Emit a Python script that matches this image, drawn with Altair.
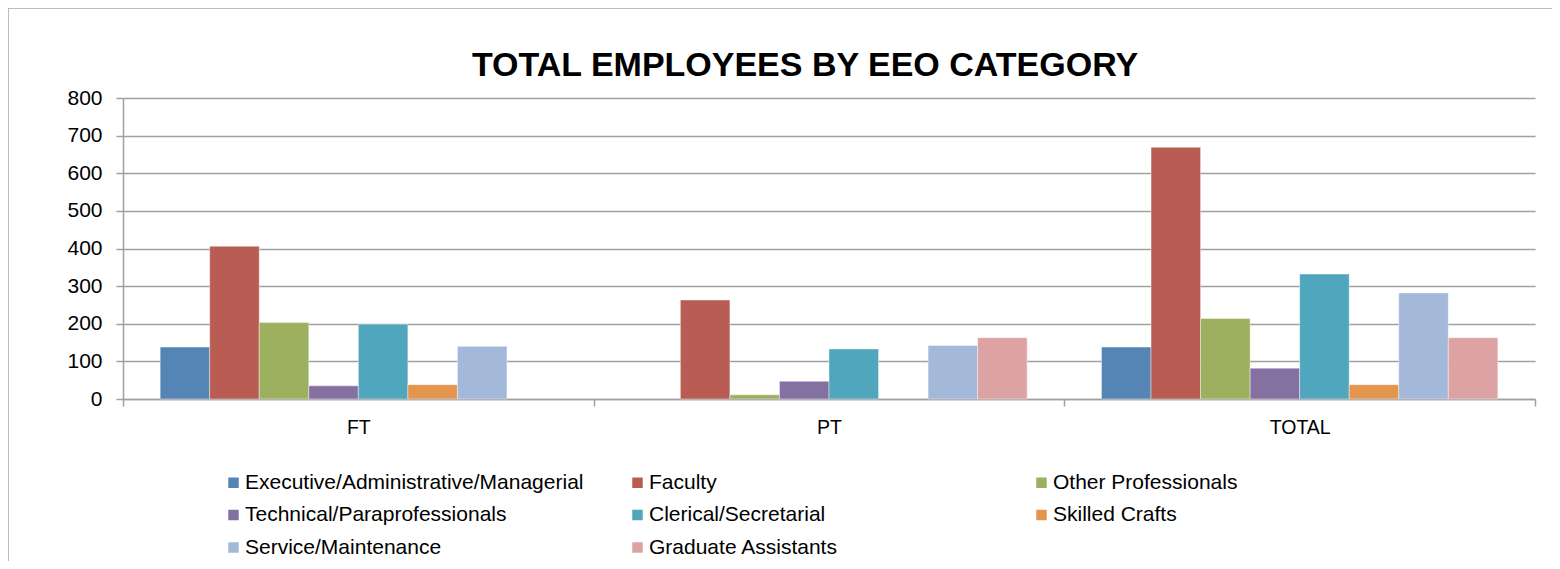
import altair as alt
import pandas as pd

categories = [
    "Executive/Administrative/Managerial",
    "Faculty",
    "Other Professionals",
    "Technical/Paraprofessionals",
    "Clerical/Secretarial",
    "Skilled Crafts",
    "Service/Maintenance",
    "Graduate Assistants",
]
groups = ["FT", "PT", "TOTAL"]
ft_values = [138, 406, 203, 35, 199, 38, 140, 0]
pt_values = [0, 263, 11, 47, 133, 0, 142, 163]
total_values = [138, 669, 214, 82, 332, 38, 282, 163]
colors = ["#5585b5", "#b95c53", "#9cb05f", "#8570a2", "#50a6bc", "#e4954d", "#a4b8d9", "#dca3a2"]
y_ticks = [0, 100, 200, 300, 400, 500, 600, 700, 800]

rows = []
for g, vals in zip(groups, [ft_values, pt_values, total_values]):
    for c, v in zip(categories, vals):
        rows.append({"group": g, "category": c, "value": v})
df = pd.DataFrame(rows)

FONT = "Liberation Sans"
GRID = "#a0a0a0"
W, H = 1412, 301

bars = alt.Chart(df).transform_filter("datum.value > 0").mark_bar(
    stroke="white", strokeWidth=0.6, strokeOpacity=0.7
).encode(
    x=alt.X(
        "group:N",
        sort=groups,
        scale=alt.Scale(paddingInner=0, paddingOuter=0),
        axis=alt.Axis(
            title=None, labelAngle=0, tickBand="extent", tickSize=7,
            tickColor=GRID, tickWidth=1.5, domainColor=GRID, domainWidth=1.5,
            labelFont=FONT, labelFontSize=19.5, labelColor="black", labelPadding=12,
        ),
    ),
    xOffset=alt.XOffset(
        "category:N", sort=categories,
        scale=alt.Scale(domain=categories, paddingInner=0, paddingOuter=0.75),
    ),
    y=alt.Y(
        "value:Q",
        scale=alt.Scale(domain=[0, 800], nice=False),
        axis=alt.Axis(
            title=None, values=y_ticks, tickSize=7, tickColor=GRID, tickWidth=1.5,
            domainColor=GRID, domainWidth=1.5, gridColor=GRID, gridWidth=1.5,
            labelFont=FONT, labelFontSize=21, labelColor="black", labelPadding=14,
        ),
    ),
    color=alt.Color(
        "category:N",
        sort=categories,
        scale=alt.Scale(domain=categories, range=colors),
        legend=alt.Legend(
            title=None, orient="none", legendX=100, legendY=374, columns=3,
            direction="horizontal",
            gridAlign="all", columnPadding=43, rowPadding=10.5,
            symbolType="square", symbolSize=110, symbolStrokeWidth=0, symbolOffset=0,
            labelOffset=1, labelFont=FONT, labelFontSize=21, labelColor="black",
            labelLimit=600, padding=0,
        ),
    ),
)

frame = alt.Chart(pd.DataFrame({"a": [0]})).mark_rect(
    fill=None, stroke="#a6a6a6", strokeWidth=1.5
).encode(
    x=alt.value(-115), x2=alt.value(1600), y=alt.value(-90), y2=alt.value(700)
)

chart = alt.layer(frame, bars).properties(
    width=W,
    height=H,
    autosize=alt.AutoSizeParams(type="none"),
    padding={"left": 115, "top": 90, "right": 17, "bottom": 162},
    title=alt.TitleParams(
        "TOTAL EMPLOYEES BY EEO CATEGORY",
        font=FONT, fontSize=34, fontWeight="bold", color="black",
        anchor="middle", frame="group", dx=-24, offset=-76,
    ),
).configure_view(stroke=None)

chart.save("out.html", embed_options={"renderer": "svg", "actions": False})
